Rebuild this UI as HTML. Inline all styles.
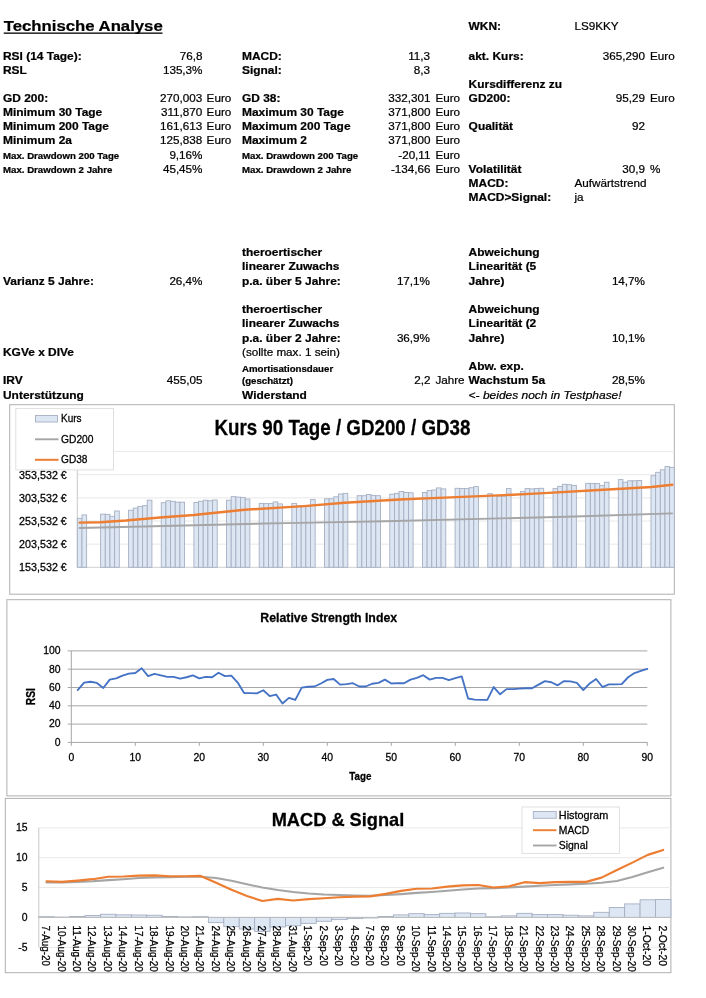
<!DOCTYPE html>
<html lang="de">
<head>
<meta charset="utf-8">
<title>Technische Analyse</title>
<style>
html,body{margin:0;padding:0;background:#fff;}
body{width:706px;height:998px;overflow:hidden;font-family:"Liberation Sans",sans-serif;}
svg{display:block;will-change:transform;font-family:"Liberation Sans",sans-serif;}
svg text{font-family:"Liberation Sans",sans-serif;}
.tb text{stroke:#000;stroke-width:0.22px;}
.ch text{stroke:#000;stroke-width:0.27px;}
</style>
</head>
<body>
<svg width="706" height="998" viewBox="0 0 706 998">
<rect x="0" y="0" width="706" height="998" fill="#ffffff"/>
<g class="tb">
<text font-size="15.4" transform="translate(3.70,30.80) scale(1.087,1)" font-weight="bold" >Technische Analyse</text>
<rect x="3.7" y="32.5" width="158.8" height="1.3" fill="#000"/>
<text font-size="11.05" transform="translate(468.60,30.00) scale(1.08,1)" font-weight="bold" >WKN:</text>
<text font-size="11.05" transform="translate(574.50,30.00) scale(1.0584,1)" >LS9KKY</text>
<text font-size="11.05" transform="translate(3.00,59.75) scale(1.08,1)" font-weight="bold" >RSI (14 Tage):</text>
<text font-size="11.05" transform="translate(202.50,59.75) scale(1.0584,1)" text-anchor="end" >76,8</text>
<text font-size="11.05" transform="translate(242.00,59.75) scale(1.08,1)" font-weight="bold" >MACD:</text>
<text font-size="11.05" transform="translate(430.00,59.75) scale(1.0584,1)" text-anchor="end" >11,3</text>
<text font-size="11.05" transform="translate(468.60,59.75) scale(1.08,1)" font-weight="bold" >akt. Kurs:</text>
<text font-size="11.05" transform="translate(645.00,59.75) scale(1.0584,1)" text-anchor="end" >365,290</text>
<text font-size="11.05" transform="translate(650.00,59.75) scale(1.0584,1)" >Euro</text>
<text font-size="11.05" transform="translate(3.00,73.87) scale(1.08,1)" font-weight="bold" >RSL</text>
<text font-size="11.05" transform="translate(202.50,73.87) scale(1.0584,1)" text-anchor="end" >135,3%</text>
<text font-size="11.05" transform="translate(242.00,73.87) scale(1.08,1)" font-weight="bold" >Signal:</text>
<text font-size="11.05" transform="translate(430.00,73.87) scale(1.0584,1)" text-anchor="end" >8,3</text>
<text font-size="11.05" transform="translate(468.60,87.99) scale(1.08,1)" font-weight="bold" >Kursdifferenz zu</text>
<text font-size="11.05" transform="translate(3.00,102.11) scale(1.08,1)" font-weight="bold" >GD 200:</text>
<text font-size="11.05" transform="translate(202.30,102.11) scale(1.0584,1)" text-anchor="end" >270,003</text>
<text font-size="11.05" transform="translate(206.60,102.11) scale(1.0584,1)" >Euro</text>
<text font-size="11.05" transform="translate(242.00,102.11) scale(1.08,1)" font-weight="bold" >GD 38:</text>
<text font-size="11.05" transform="translate(430.50,102.11) scale(1.0584,1)" text-anchor="end" >332,301</text>
<text font-size="11.05" transform="translate(435.40,102.11) scale(1.0584,1)" >Euro</text>
<text font-size="11.05" transform="translate(468.60,102.11) scale(1.08,1)" font-weight="bold" >GD200:</text>
<text font-size="11.05" transform="translate(645.00,102.11) scale(1.0584,1)" text-anchor="end" >95,29</text>
<text font-size="11.05" transform="translate(650.00,102.11) scale(1.0584,1)" >Euro</text>
<text font-size="11.05" transform="translate(3.00,116.23) scale(1.08,1)" font-weight="bold" >Minimum 30 Tage</text>
<text font-size="11.05" transform="translate(202.30,116.23) scale(1.0584,1)" text-anchor="end" >311,870</text>
<text font-size="11.05" transform="translate(206.60,116.23) scale(1.0584,1)" >Euro</text>
<text font-size="11.05" transform="translate(242.00,116.23) scale(1.08,1)" font-weight="bold" >Maximum 30 Tage</text>
<text font-size="11.05" transform="translate(430.50,116.23) scale(1.0584,1)" text-anchor="end" >371,800</text>
<text font-size="11.05" transform="translate(435.40,116.23) scale(1.0584,1)" >Euro</text>
<text font-size="11.05" transform="translate(3.00,130.35) scale(1.08,1)" font-weight="bold" >Minimum 200 Tage</text>
<text font-size="11.05" transform="translate(202.30,130.35) scale(1.0584,1)" text-anchor="end" >161,613</text>
<text font-size="11.05" transform="translate(206.60,130.35) scale(1.0584,1)" >Euro</text>
<text font-size="11.05" transform="translate(242.00,130.35) scale(1.08,1)" font-weight="bold" >Maximum 200 Tage</text>
<text font-size="11.05" transform="translate(430.50,130.35) scale(1.0584,1)" text-anchor="end" >371,800</text>
<text font-size="11.05" transform="translate(435.40,130.35) scale(1.0584,1)" >Euro</text>
<text font-size="11.05" transform="translate(468.60,130.35) scale(1.08,1)" font-weight="bold" >Qualität</text>
<text font-size="11.05" transform="translate(645.00,130.35) scale(1.0584,1)" text-anchor="end" >92</text>
<text font-size="11.05" transform="translate(3.00,144.47) scale(1.08,1)" font-weight="bold" >Minimum 2a</text>
<text font-size="11.05" transform="translate(202.30,144.47) scale(1.0584,1)" text-anchor="end" >125,838</text>
<text font-size="11.05" transform="translate(206.60,144.47) scale(1.0584,1)" >Euro</text>
<text font-size="11.05" transform="translate(242.00,144.47) scale(1.08,1)" font-weight="bold" >Maximum 2</text>
<text font-size="11.05" transform="translate(430.50,144.47) scale(1.0584,1)" text-anchor="end" >371,800</text>
<text font-size="11.05" transform="translate(435.40,144.47) scale(1.0584,1)" >Euro</text>
<text font-size="8.95" transform="translate(3.00,158.59) scale(1.08,1)" font-weight="bold" >Max. Drawdown 200 Tage</text>
<text font-size="11.05" transform="translate(202.50,158.59) scale(1.0584,1)" text-anchor="end" >9,16%</text>
<text font-size="8.95" transform="translate(242.00,158.59) scale(1.08,1)" font-weight="bold" >Max. Drawdown 200 Tage</text>
<text font-size="11.05" transform="translate(430.50,158.59) scale(1.0584,1)" text-anchor="end" >-20,11</text>
<text font-size="11.05" transform="translate(435.40,158.59) scale(1.0584,1)" >Euro</text>
<text font-size="8.95" transform="translate(3.00,172.71) scale(1.08,1)" font-weight="bold" >Max. Drawdown 2 Jahre</text>
<text font-size="11.05" transform="translate(202.50,172.71) scale(1.0584,1)" text-anchor="end" >45,45%</text>
<text font-size="8.95" transform="translate(242.00,172.71) scale(1.08,1)" font-weight="bold" >Max. Drawdown 2 Jahre</text>
<text font-size="11.05" transform="translate(430.50,172.71) scale(1.0584,1)" text-anchor="end" >-134,66</text>
<text font-size="11.05" transform="translate(435.40,172.71) scale(1.0584,1)" >Euro</text>
<text font-size="11.05" transform="translate(468.60,172.71) scale(1.08,1)" font-weight="bold" >Volatilität</text>
<text font-size="11.05" transform="translate(645.00,172.71) scale(1.0584,1)" text-anchor="end" >30,9</text>
<text font-size="11.05" transform="translate(650.00,172.71) scale(1.0584,1)" >%</text>
<text font-size="11.05" transform="translate(468.60,186.83) scale(1.08,1)" font-weight="bold" >MACD:</text>
<text font-size="11.05" transform="translate(574.50,186.83) scale(1.0584,1)" >Aufwärtstrend</text>
<text font-size="11.05" transform="translate(468.60,200.95) scale(1.08,1)" font-weight="bold" >MACD&gt;Signal:</text>
<text font-size="11.05" transform="translate(574.50,200.95) scale(1.0584,1)" >ja</text>
<text font-size="11.05" transform="translate(242.00,256.25) scale(1.08,1)" font-weight="bold" >theroertischer</text>
<text font-size="11.05" transform="translate(242.00,270.48) scale(1.08,1)" font-weight="bold" >linearer Zuwachs</text>
<text font-size="11.05" transform="translate(242.00,284.71) scale(1.08,1)" font-weight="bold" >p.a. über 5 Jahre:</text>
<text font-size="11.05" transform="translate(468.60,256.25) scale(1.08,1)" font-weight="bold" >Abweichung</text>
<text font-size="11.05" transform="translate(468.60,270.48) scale(1.08,1)" font-weight="bold" >Linearität (5</text>
<text font-size="11.05" transform="translate(468.60,284.71) scale(1.08,1)" font-weight="bold" >Jahre)</text>
<text font-size="11.05" transform="translate(3.00,284.71) scale(1.08,1)" font-weight="bold" >Varianz 5 Jahre:</text>
<text font-size="11.05" transform="translate(202.50,284.71) scale(1.0584,1)" text-anchor="end" >26,4%</text>
<text font-size="11.05" transform="translate(430.00,284.71) scale(1.0584,1)" text-anchor="end" >17,1%</text>
<text font-size="11.05" transform="translate(645.00,284.71) scale(1.0584,1)" text-anchor="end" >14,7%</text>
<text font-size="11.05" transform="translate(242.00,313.17) scale(1.08,1)" font-weight="bold" >theroertischer</text>
<text font-size="11.05" transform="translate(242.00,327.40) scale(1.08,1)" font-weight="bold" >linearer Zuwachs</text>
<text font-size="11.05" transform="translate(242.00,341.63) scale(1.08,1)" font-weight="bold" >p.a. über 2 Jahre:</text>
<text font-size="11.05" transform="translate(242.00,355.86) scale(1.0584,1)" >(sollte max. 1 sein)</text>
<text font-size="11.05" transform="translate(468.60,313.17) scale(1.08,1)" font-weight="bold" >Abweichung</text>
<text font-size="11.05" transform="translate(468.60,327.40) scale(1.08,1)" font-weight="bold" >Linearität (2</text>
<text font-size="11.05" transform="translate(468.60,341.63) scale(1.08,1)" font-weight="bold" >Jahre)</text>
<text font-size="11.05" transform="translate(430.00,341.63) scale(1.0584,1)" text-anchor="end" >36,9%</text>
<text font-size="11.05" transform="translate(645.00,341.63) scale(1.0584,1)" text-anchor="end" >10,1%</text>
<text font-size="11.05" transform="translate(3.00,355.86) scale(1.08,1)" font-weight="bold" >KGVe x DIVe</text>
<text font-size="8.95" transform="translate(242.00,371.59) scale(1.08,1)" font-weight="bold" >Amortisationsdauer</text>
<text font-size="11.05" transform="translate(468.60,370.09) scale(1.08,1)" font-weight="bold" >Abw. exp.</text>
<text font-size="11.05" transform="translate(3.00,384.32) scale(1.08,1)" font-weight="bold" >IRV</text>
<text font-size="11.05" transform="translate(202.50,384.32) scale(1.0584,1)" text-anchor="end" >455,05</text>
<text font-size="8.95" transform="translate(242.00,383.82) scale(1.08,1)" font-weight="bold" >(geschätzt)</text>
<text font-size="11.05" transform="translate(430.50,384.32) scale(1.0584,1)" text-anchor="end" >2,2</text>
<text font-size="11.05" transform="translate(435.40,384.32) scale(1.0584,1)" >Jahre</text>
<text font-size="11.05" transform="translate(468.60,384.32) scale(1.08,1)" font-weight="bold" >Wachstum 5a</text>
<text font-size="11.05" transform="translate(645.00,384.32) scale(1.0584,1)" text-anchor="end" >28,5%</text>
<text font-size="11.05" transform="translate(3.00,398.55) scale(1.08,1)" font-weight="bold" >Unterstützung</text>
<text font-size="11.05" transform="translate(242.00,398.55) scale(1.08,1)" font-weight="bold" >Widerstand</text>
<text font-size="11.05" transform="translate(468.60,398.55) scale(1.085,1)" font-style="italic" >&lt;- beides noch in Testphase!</text>
</g>
<g class="ch">
<rect x="9.7" y="404.7" width="664.6" height="189.5" fill="#fff" stroke="#b0b0b0" stroke-width="1"/>
<line x1="77.3" x2="674.3" y1="544.15" y2="544.15" stroke="#e8e8e8" stroke-width="1"/>
<line x1="77.3" x2="674.3" y1="521.00" y2="521.00" stroke="#e8e8e8" stroke-width="1"/>
<line x1="77.3" x2="674.3" y1="497.85" y2="497.85" stroke="#e8e8e8" stroke-width="1"/>
<line x1="77.3" x2="674.3" y1="474.70" y2="474.70" stroke="#e8e8e8" stroke-width="1"/>
<line x1="77.3" x2="674.3" y1="451.55" y2="451.55" stroke="#e8e8e8" stroke-width="1"/>
<line x1="77.3" x2="674.3" y1="567.3" y2="567.3" stroke="#d0d0d0" stroke-width="1"/>
<line x1="77.3" x2="77.3" y1="451.55" y2="567.3" stroke="#c8c8c8" stroke-width="1"/>
<g fill="#dde6f3" stroke="#a6afc2" stroke-width="0.9">
<rect x="77.30" y="518.30" width="4.66" height="49.00"/>
<rect x="81.96" y="514.90" width="4.66" height="52.40"/>
<rect x="100.62" y="514.10" width="4.66" height="53.20"/>
<rect x="105.28" y="514.40" width="4.66" height="52.90"/>
<rect x="109.95" y="516.30" width="4.66" height="51.00"/>
<rect x="114.61" y="511.00" width="4.66" height="56.30"/>
<rect x="128.60" y="510.20" width="4.66" height="57.10"/>
<rect x="133.27" y="508.10" width="4.66" height="59.20"/>
<rect x="137.93" y="506.40" width="4.66" height="60.90"/>
<rect x="142.60" y="505.60" width="4.66" height="61.70"/>
<rect x="147.26" y="500.20" width="4.66" height="67.10"/>
<rect x="161.25" y="502.70" width="4.66" height="64.60"/>
<rect x="165.92" y="500.80" width="4.66" height="66.50"/>
<rect x="170.58" y="501.30" width="4.66" height="66.00"/>
<rect x="175.25" y="502.20" width="4.66" height="65.10"/>
<rect x="179.91" y="502.20" width="4.66" height="65.10"/>
<rect x="193.90" y="502.50" width="4.66" height="64.80"/>
<rect x="198.57" y="501.30" width="4.66" height="66.00"/>
<rect x="203.23" y="500.20" width="4.66" height="67.10"/>
<rect x="207.89" y="500.80" width="4.66" height="66.50"/>
<rect x="212.56" y="500.00" width="4.66" height="67.30"/>
<rect x="226.55" y="500.20" width="4.66" height="67.10"/>
<rect x="231.21" y="496.60" width="4.66" height="70.70"/>
<rect x="235.88" y="497.10" width="4.66" height="70.20"/>
<rect x="240.54" y="497.40" width="4.66" height="69.90"/>
<rect x="245.21" y="499.10" width="4.66" height="68.20"/>
<rect x="259.20" y="503.40" width="4.66" height="63.90"/>
<rect x="263.86" y="503.60" width="4.66" height="63.70"/>
<rect x="268.53" y="503.60" width="4.66" height="63.70"/>
<rect x="273.19" y="501.90" width="4.66" height="65.40"/>
<rect x="277.85" y="503.90" width="4.66" height="63.40"/>
<rect x="291.85" y="503.40" width="4.66" height="63.90"/>
<rect x="296.51" y="505.90" width="4.66" height="61.40"/>
<rect x="301.18" y="505.60" width="4.66" height="61.70"/>
<rect x="305.84" y="506.40" width="4.66" height="60.90"/>
<rect x="310.50" y="499.60" width="4.66" height="67.70"/>
<rect x="324.50" y="498.80" width="4.66" height="68.50"/>
<rect x="329.16" y="498.80" width="4.66" height="68.50"/>
<rect x="333.82" y="496.80" width="4.66" height="70.50"/>
<rect x="338.49" y="494.00" width="4.66" height="73.30"/>
<rect x="343.15" y="493.40" width="4.66" height="73.90"/>
<rect x="357.14" y="495.70" width="4.66" height="71.60"/>
<rect x="361.81" y="495.70" width="4.66" height="71.60"/>
<rect x="366.47" y="494.50" width="4.66" height="72.80"/>
<rect x="371.14" y="495.40" width="4.66" height="71.90"/>
<rect x="375.80" y="495.70" width="4.66" height="71.60"/>
<rect x="389.79" y="494.20" width="4.66" height="73.10"/>
<rect x="394.46" y="493.40" width="4.66" height="73.90"/>
<rect x="399.12" y="491.50" width="4.66" height="75.80"/>
<rect x="403.78" y="492.50" width="4.66" height="74.80"/>
<rect x="408.45" y="492.80" width="4.66" height="74.50"/>
<rect x="422.44" y="492.50" width="4.66" height="74.80"/>
<rect x="427.10" y="490.60" width="4.66" height="76.70"/>
<rect x="431.77" y="490.00" width="4.66" height="77.30"/>
<rect x="436.43" y="487.90" width="4.66" height="79.40"/>
<rect x="441.10" y="488.90" width="4.66" height="78.40"/>
<rect x="455.09" y="488.30" width="4.66" height="79.00"/>
<rect x="459.75" y="488.60" width="4.66" height="78.70"/>
<rect x="464.42" y="488.60" width="4.66" height="78.70"/>
<rect x="469.08" y="487.70" width="4.66" height="79.60"/>
<rect x="473.75" y="486.60" width="4.66" height="80.70"/>
<rect x="487.74" y="493.70" width="4.66" height="73.60"/>
<rect x="492.40" y="495.70" width="4.66" height="71.60"/>
<rect x="497.07" y="496.20" width="4.66" height="71.10"/>
<rect x="501.73" y="496.20" width="4.66" height="71.10"/>
<rect x="506.39" y="488.60" width="4.66" height="78.70"/>
<rect x="520.39" y="491.50" width="4.66" height="75.80"/>
<rect x="525.05" y="488.60" width="4.66" height="78.70"/>
<rect x="529.71" y="488.90" width="4.66" height="78.40"/>
<rect x="534.38" y="488.60" width="4.66" height="78.70"/>
<rect x="539.04" y="488.30" width="4.66" height="79.00"/>
<rect x="553.03" y="488.60" width="4.66" height="78.70"/>
<rect x="557.70" y="486.40" width="4.66" height="80.90"/>
<rect x="562.36" y="484.30" width="4.66" height="83.00"/>
<rect x="567.03" y="484.70" width="4.66" height="82.60"/>
<rect x="571.69" y="485.50" width="4.66" height="81.80"/>
<rect x="585.68" y="483.40" width="4.66" height="83.90"/>
<rect x="590.35" y="483.40" width="4.66" height="83.90"/>
<rect x="595.01" y="483.60" width="4.66" height="83.70"/>
<rect x="599.67" y="485.60" width="4.66" height="81.70"/>
<rect x="604.34" y="482.20" width="4.66" height="85.10"/>
<rect x="618.33" y="479.60" width="4.66" height="87.70"/>
<rect x="623.00" y="482.20" width="4.66" height="85.10"/>
<rect x="627.66" y="480.80" width="4.66" height="86.50"/>
<rect x="632.32" y="480.80" width="4.66" height="86.50"/>
<rect x="636.99" y="480.50" width="4.66" height="86.80"/>
<rect x="650.98" y="475.70" width="4.66" height="91.60"/>
<rect x="655.64" y="472.30" width="4.66" height="95.00"/>
<rect x="660.31" y="469.80" width="4.66" height="97.50"/>
<rect x="664.97" y="466.60" width="4.66" height="100.70"/>
<rect x="669.64" y="467.40" width="4.66" height="99.90"/>
</g>
<polyline fill="none" stroke="#a5a5a5" stroke-width="1.95" stroke-linejoin="round" stroke-linecap="round" points="79.6,528 185,525.5 285,523.1 385,521.2 480,518.9 575,516.5 672,513.4"/>
<polyline fill="none" stroke="#ed7d31" stroke-width="2.45" stroke-linejoin="round" stroke-linecap="round" points="79.6,522.6 100,522.2 126,520.5 160,517.5 194,515 244.5,509.8 304,506.1 344.5,502.7 404,499.3 444.5,497.6 504,495.1 539.5,493.4 599,490 626,488.5 651.5,487 672.3,484.8"/>
<text font-size="10.9" x="66.80" y="571.10" text-anchor="end" textLength="47.70" lengthAdjust="spacingAndGlyphs" >153,532 €</text>
<text font-size="10.9" x="66.80" y="547.95" text-anchor="end" textLength="47.70" lengthAdjust="spacingAndGlyphs" >203,532 €</text>
<text font-size="10.9" x="66.80" y="524.80" text-anchor="end" textLength="47.70" lengthAdjust="spacingAndGlyphs" >253,532 €</text>
<text font-size="10.9" x="66.80" y="501.65" text-anchor="end" textLength="47.70" lengthAdjust="spacingAndGlyphs" >303,532 €</text>
<text font-size="10.9" x="66.80" y="478.50" text-anchor="end" textLength="47.70" lengthAdjust="spacingAndGlyphs" >353,532 €</text>
<rect x="15.8" y="408.4" width="97.7" height="61.5" fill="#fff" stroke="#dcdcdc" stroke-width="0.9"/>
<rect x="35.5" y="415.5" width="22" height="6.5" fill="#dde6f3" stroke="#a6afc2" stroke-width="0.9"/>
<text font-size="10.5" x="61.00" y="422.20" textLength="20.50" lengthAdjust="spacingAndGlyphs" >Kurs</text>
<line x1="35" x2="58.5" y1="439.3" y2="439.3" stroke="#a5a5a5" stroke-width="1.9"/>
<text font-size="10.5" x="61.00" y="442.90" textLength="32.50" lengthAdjust="spacingAndGlyphs" >GD200</text>
<line x1="35" x2="58.5" y1="459.8" y2="459.8" stroke="#ed7d31" stroke-width="2.0"/>
<text font-size="10.5" x="61.00" y="463.40" textLength="26.50" lengthAdjust="spacingAndGlyphs" >GD38</text>
<text font-size="21.8" x="214.40" y="435.00" font-weight="bold" textLength="256.00" lengthAdjust="spacingAndGlyphs" stroke="#000" stroke-width="0.4">Kurs 90 Tage / GD200 / GD38</text>
<rect x="6.9" y="599.7" width="664.0" height="196.2" fill="#fff" stroke="#b0b0b0" stroke-width="1"/>
<line x1="67.7" x2="647.3" y1="742.40" y2="742.40" stroke="#a6a6a6" stroke-width="1"/>
<text font-size="10.4" x="60.60" y="745.70" text-anchor="end" >0</text>
<line x1="67.7" x2="647.3" y1="724.10" y2="724.10" stroke="#a6a6a6" stroke-width="1"/>
<text font-size="10.4" x="60.60" y="727.40" text-anchor="end" >20</text>
<line x1="67.7" x2="647.3" y1="705.80" y2="705.80" stroke="#a6a6a6" stroke-width="1"/>
<text font-size="10.4" x="60.60" y="709.10" text-anchor="end" >40</text>
<line x1="67.7" x2="647.3" y1="687.50" y2="687.50" stroke="#a6a6a6" stroke-width="1"/>
<text font-size="10.4" x="60.60" y="690.80" text-anchor="end" >60</text>
<line x1="67.7" x2="647.3" y1="669.20" y2="669.20" stroke="#a6a6a6" stroke-width="1"/>
<text font-size="10.4" x="60.60" y="672.50" text-anchor="end" >80</text>
<line x1="67.7" x2="647.3" y1="650.90" y2="650.90" stroke="#a6a6a6" stroke-width="1"/>
<text font-size="10.4" x="60.60" y="654.20" text-anchor="end" >100</text>
<line x1="71.3" x2="71.3" y1="650.90" y2="742.4" stroke="#a6a6a6" stroke-width="1"/>
<line x1="71.30" x2="71.30" y1="742.4" y2="745.8" stroke="#a6a6a6" stroke-width="1"/>
<text font-size="10.4" x="71.30" y="760.70" text-anchor="middle" >0</text>
<line x1="135.30" x2="135.30" y1="742.4" y2="745.8" stroke="#a6a6a6" stroke-width="1"/>
<text font-size="10.4" x="135.30" y="760.70" text-anchor="middle" >10</text>
<line x1="199.30" x2="199.30" y1="742.4" y2="745.8" stroke="#a6a6a6" stroke-width="1"/>
<text font-size="10.4" x="199.30" y="760.70" text-anchor="middle" >20</text>
<line x1="263.30" x2="263.30" y1="742.4" y2="745.8" stroke="#a6a6a6" stroke-width="1"/>
<text font-size="10.4" x="263.30" y="760.70" text-anchor="middle" >30</text>
<line x1="327.30" x2="327.30" y1="742.4" y2="745.8" stroke="#a6a6a6" stroke-width="1"/>
<text font-size="10.4" x="327.30" y="760.70" text-anchor="middle" >40</text>
<line x1="391.30" x2="391.30" y1="742.4" y2="745.8" stroke="#a6a6a6" stroke-width="1"/>
<text font-size="10.4" x="391.30" y="760.70" text-anchor="middle" >50</text>
<line x1="455.30" x2="455.30" y1="742.4" y2="745.8" stroke="#a6a6a6" stroke-width="1"/>
<text font-size="10.4" x="455.30" y="760.70" text-anchor="middle" >60</text>
<line x1="519.30" x2="519.30" y1="742.4" y2="745.8" stroke="#a6a6a6" stroke-width="1"/>
<text font-size="10.4" x="519.30" y="760.70" text-anchor="middle" >70</text>
<line x1="583.30" x2="583.30" y1="742.4" y2="745.8" stroke="#a6a6a6" stroke-width="1"/>
<text font-size="10.4" x="583.30" y="760.70" text-anchor="middle" >80</text>
<line x1="647.30" x2="647.30" y1="742.4" y2="745.8" stroke="#a6a6a6" stroke-width="1"/>
<text font-size="10.4" x="647.30" y="760.70" text-anchor="middle" >90</text>
<polyline fill="none" stroke="#4472c4" stroke-width="1.85" stroke-linejoin="round" stroke-linecap="round" points="77.70,690.06 84.10,682.56 90.50,681.74 96.90,682.92 103.30,687.96 109.70,679.63 116.10,678.44 122.50,675.70 128.90,673.59 135.30,673.04 141.70,668.28 148.10,676.06 154.50,673.96 160.90,675.42 167.30,676.89 173.70,676.89 180.10,678.72 186.50,677.25 192.90,675.42 199.30,678.35 205.70,676.89 212.10,677.25 218.50,672.77 224.90,676.06 231.30,675.70 237.70,682.56 244.10,693.08 250.50,693.08 256.90,693.36 263.30,690.25 269.70,696.10 276.10,694.55 282.50,703.51 288.90,697.84 295.30,699.94 301.70,687.68 308.10,686.77 314.50,686.49 320.90,683.47 327.30,679.91 333.70,678.99 340.10,684.66 346.50,684.11 352.90,683.20 359.30,686.49 365.70,686.49 372.10,683.75 378.50,682.92 384.90,679.63 391.30,683.47 397.70,683.20 404.10,683.20 410.50,679.63 416.90,677.80 423.30,675.15 429.70,679.63 436.10,677.80 442.50,677.80 448.90,680.18 455.30,678.17 461.70,676.34 468.10,698.48 474.50,699.67 480.90,699.94 487.30,699.94 493.70,687.04 500.10,694.27 506.50,689.15 512.90,689.15 519.30,688.60 525.70,688.23 532.10,688.23 538.50,684.66 544.90,681.10 551.30,682.28 557.70,685.30 564.10,681.10 570.50,681.37 576.90,682.92 583.30,690.06 589.70,683.47 596.10,678.99 602.50,687.04 608.90,684.39 615.30,684.39 621.70,684.11 628.10,677.25 634.50,673.04 640.90,670.94 647.30,668.83"/>
<text font-size="12.8" x="260.30" y="621.80" font-weight="bold" textLength="136.80" lengthAdjust="spacingAndGlyphs" stroke="#000" stroke-width="0.3">Relative Strength Index</text>
<text font-size="10.2" x="349.30" y="780.00" font-weight="bold" textLength="22.10" lengthAdjust="spacingAndGlyphs" stroke="#000" stroke-width="0.3">Tage</text>
<text font-size="13" font-weight="bold" text-anchor="middle" textLength="17" lengthAdjust="spacingAndGlyphs" stroke="#000" stroke-width="0.35" transform="translate(35.4,696.7) rotate(-90)">RSI</text>
<rect x="5.3" y="798.4" width="665.6" height="174.3" fill="#fff" stroke="#b0b0b0" stroke-width="1"/>
<line x1="38.8" x2="670.9" y1="947.25" y2="947.25" stroke="#e8e8e8" stroke-width="1"/>
<line x1="38.8" x2="670.9" y1="887.55" y2="887.55" stroke="#e8e8e8" stroke-width="1"/>
<line x1="38.8" x2="670.9" y1="857.70" y2="857.70" stroke="#e8e8e8" stroke-width="1"/>
<line x1="38.8" x2="670.9" y1="827.85" y2="827.85" stroke="#e8e8e8" stroke-width="1"/>
<text font-size="10.4" x="27.60" y="950.75" text-anchor="end" >-5</text>
<text font-size="10.4" x="27.60" y="920.90" text-anchor="end" >0</text>
<text font-size="10.4" x="27.60" y="891.05" text-anchor="end" >5</text>
<text font-size="10.4" x="27.60" y="861.20" text-anchor="end" >10</text>
<text font-size="10.4" x="27.60" y="831.35" text-anchor="end" >15</text>
<line x1="38.8" x2="38.8" y1="827.85" y2="947.25" stroke="#c8c8c8" stroke-width="1"/>
<g fill="#dde6f3" stroke="#a6afc2" stroke-width="0.9">
<rect x="38.80" y="916.68" width="15.42" height="0.72"/>
<rect x="54.22" y="917.10" width="15.42" height="0.30"/>
<rect x="69.63" y="916.50" width="15.42" height="0.90"/>
<rect x="85.05" y="915.49" width="15.42" height="1.91"/>
<rect x="100.47" y="914.24" width="15.42" height="3.16"/>
<rect x="115.89" y="914.83" width="15.42" height="2.57"/>
<rect x="131.30" y="915.01" width="15.42" height="2.39"/>
<rect x="146.72" y="915.25" width="15.42" height="2.15"/>
<rect x="162.14" y="916.50" width="15.42" height="0.90"/>
<rect x="177.55" y="916.92" width="15.42" height="0.48"/>
<rect x="192.97" y="916.68" width="15.42" height="0.72"/>
<rect x="208.39" y="917.40" width="15.42" height="5.25"/>
<rect x="223.80" y="917.40" width="15.42" height="9.25"/>
<rect x="239.22" y="917.40" width="15.42" height="11.64"/>
<rect x="254.64" y="917.40" width="15.42" height="14.03"/>
<rect x="270.06" y="917.40" width="15.42" height="9.55"/>
<rect x="285.47" y="917.40" width="15.42" height="8.36"/>
<rect x="300.89" y="917.40" width="15.42" height="5.97"/>
<rect x="316.31" y="917.40" width="15.42" height="3.88"/>
<rect x="331.72" y="917.40" width="15.42" height="2.21"/>
<rect x="347.14" y="917.40" width="15.42" height="1.19"/>
<rect x="362.56" y="917.40" width="15.42" height="0.60"/>
<rect x="377.98" y="916.44" width="15.42" height="0.96"/>
<rect x="393.39" y="914.89" width="15.42" height="2.51"/>
<rect x="408.81" y="913.64" width="15.42" height="3.76"/>
<rect x="424.23" y="914.59" width="15.42" height="2.81"/>
<rect x="439.64" y="913.34" width="15.42" height="4.06"/>
<rect x="455.06" y="912.98" width="15.42" height="4.42"/>
<rect x="470.48" y="913.64" width="15.42" height="3.76"/>
<rect x="485.90" y="916.80" width="15.42" height="0.60"/>
<rect x="501.31" y="915.85" width="15.42" height="1.55"/>
<rect x="516.73" y="913.34" width="15.42" height="4.06"/>
<rect x="532.15" y="914.59" width="15.42" height="2.81"/>
<rect x="547.56" y="914.59" width="15.42" height="2.81"/>
<rect x="562.98" y="915.19" width="15.42" height="2.21"/>
<rect x="578.40" y="915.85" width="15.42" height="1.55"/>
<rect x="593.81" y="912.33" width="15.42" height="5.07"/>
<rect x="609.23" y="907.55" width="15.42" height="9.85"/>
<rect x="624.65" y="903.91" width="15.42" height="13.49"/>
<rect x="640.07" y="899.79" width="15.42" height="17.61"/>
<rect x="655.48" y="899.49" width="15.42" height="17.91"/>
</g>
<line x1="38.8" x2="670.9" y1="917.4" y2="917.4" stroke="#bfbfbf" stroke-width="1"/>
<polyline fill="none" stroke="#a5a5a5" stroke-width="2.1" stroke-linejoin="round" stroke-linecap="round" points="46.51,882.48 61.93,882.48 77.34,881.88 92.76,881.28 108.18,880.09 123.59,879.19 139.01,878.00 154.43,877.40 169.85,877.10 185.26,876.80 200.68,876.80 216.10,878.00 231.51,880.68 246.93,884.27 262.35,887.55 277.76,890.06 293.18,891.97 308.60,893.52 324.02,894.48 339.43,895.07 354.85,895.43 370.27,895.73 385.68,895.07 401.10,894.12 416.52,892.92 431.94,891.97 447.35,890.71 462.77,889.46 478.19,888.51 493.60,888.15 509.02,887.55 524.44,886.59 539.85,885.76 555.27,885.04 570.69,884.39 586.11,883.79 601.52,882.77 616.94,880.98 632.36,877.10 647.77,872.27 663.19,867.67"/>
<polyline fill="none" stroke="#ed7d31" stroke-width="2.15" stroke-linejoin="round" stroke-linecap="round" points="46.51,881.28 61.93,881.88 77.34,880.68 92.76,879.19 108.18,876.80 123.59,876.51 139.01,875.61 154.43,875.31 169.85,876.21 185.26,876.21 200.68,875.91 216.10,882.77 231.51,889.76 246.93,895.91 262.35,901.04 277.76,898.89 293.18,900.45 308.60,899.19 324.02,898.30 339.43,897.28 354.85,896.68 370.27,896.33 385.68,893.82 401.10,890.83 416.52,888.74 431.94,888.51 447.35,886.59 462.77,885.34 478.19,885.04 493.60,887.55 509.02,886.36 524.44,882.18 539.85,883.13 555.27,882.18 570.69,881.88 586.11,881.88 601.52,877.64 616.94,869.94 632.36,862.60 647.77,854.89 663.19,849.94"/>
<clipPath id="c3"><rect x="5.6" y="798.5" width="664.8" height="173.7"/></clipPath>
<g clip-path="url(#c3)" font-size="11.2" style="stroke:#000;stroke-width:0.3px">
<text textLength="40.6" lengthAdjust="spacingAndGlyphs" transform="translate(42.21,925.4) rotate(90)">7-Aug-20</text>
<text textLength="46.4" lengthAdjust="spacingAndGlyphs" transform="translate(57.63,925.4) rotate(90)">10-Aug-20</text>
<text textLength="46.4" lengthAdjust="spacingAndGlyphs" transform="translate(73.04,925.4) rotate(90)">11-Aug-20</text>
<text textLength="46.4" lengthAdjust="spacingAndGlyphs" transform="translate(88.46,925.4) rotate(90)">12-Aug-20</text>
<text textLength="46.4" lengthAdjust="spacingAndGlyphs" transform="translate(103.88,925.4) rotate(90)">13-Aug-20</text>
<text textLength="46.4" lengthAdjust="spacingAndGlyphs" transform="translate(119.29,925.4) rotate(90)">14-Aug-20</text>
<text textLength="46.4" lengthAdjust="spacingAndGlyphs" transform="translate(134.71,925.4) rotate(90)">17-Aug-20</text>
<text textLength="46.4" lengthAdjust="spacingAndGlyphs" transform="translate(150.13,925.4) rotate(90)">18-Aug-20</text>
<text textLength="46.4" lengthAdjust="spacingAndGlyphs" transform="translate(165.55,925.4) rotate(90)">19-Aug-20</text>
<text textLength="46.4" lengthAdjust="spacingAndGlyphs" transform="translate(180.96,925.4) rotate(90)">20-Aug-20</text>
<text textLength="46.4" lengthAdjust="spacingAndGlyphs" transform="translate(196.38,925.4) rotate(90)">21-Aug-20</text>
<text textLength="46.4" lengthAdjust="spacingAndGlyphs" transform="translate(211.80,925.4) rotate(90)">24-Aug-20</text>
<text textLength="46.4" lengthAdjust="spacingAndGlyphs" transform="translate(227.21,925.4) rotate(90)">25-Aug-20</text>
<text textLength="46.4" lengthAdjust="spacingAndGlyphs" transform="translate(242.63,925.4) rotate(90)">26-Aug-20</text>
<text textLength="46.4" lengthAdjust="spacingAndGlyphs" transform="translate(258.05,925.4) rotate(90)">27-Aug-20</text>
<text textLength="46.4" lengthAdjust="spacingAndGlyphs" transform="translate(273.46,925.4) rotate(90)">28-Aug-20</text>
<text textLength="46.4" lengthAdjust="spacingAndGlyphs" transform="translate(288.88,925.4) rotate(90)">31-Aug-20</text>
<text textLength="40.6" lengthAdjust="spacingAndGlyphs" transform="translate(304.30,925.4) rotate(90)">1-Sep-20</text>
<text textLength="40.6" lengthAdjust="spacingAndGlyphs" transform="translate(319.72,925.4) rotate(90)">2-Sep-20</text>
<text textLength="40.6" lengthAdjust="spacingAndGlyphs" transform="translate(335.13,925.4) rotate(90)">3-Sep-20</text>
<text textLength="40.6" lengthAdjust="spacingAndGlyphs" transform="translate(350.55,925.4) rotate(90)">4-Sep-20</text>
<text textLength="40.6" lengthAdjust="spacingAndGlyphs" transform="translate(365.97,925.4) rotate(90)">7-Sep-20</text>
<text textLength="40.6" lengthAdjust="spacingAndGlyphs" transform="translate(381.38,925.4) rotate(90)">8-Sep-20</text>
<text textLength="40.6" lengthAdjust="spacingAndGlyphs" transform="translate(396.80,925.4) rotate(90)">9-Sep-20</text>
<text textLength="46.4" lengthAdjust="spacingAndGlyphs" transform="translate(412.22,925.4) rotate(90)">10-Sep-20</text>
<text textLength="46.4" lengthAdjust="spacingAndGlyphs" transform="translate(427.64,925.4) rotate(90)">11-Sep-20</text>
<text textLength="46.4" lengthAdjust="spacingAndGlyphs" transform="translate(443.05,925.4) rotate(90)">14-Sep-20</text>
<text textLength="46.4" lengthAdjust="spacingAndGlyphs" transform="translate(458.47,925.4) rotate(90)">15-Sep-20</text>
<text textLength="46.4" lengthAdjust="spacingAndGlyphs" transform="translate(473.89,925.4) rotate(90)">16-Sep-20</text>
<text textLength="46.4" lengthAdjust="spacingAndGlyphs" transform="translate(489.30,925.4) rotate(90)">17-Sep-20</text>
<text textLength="46.4" lengthAdjust="spacingAndGlyphs" transform="translate(504.72,925.4) rotate(90)">18-Sep-20</text>
<text textLength="46.4" lengthAdjust="spacingAndGlyphs" transform="translate(520.14,925.4) rotate(90)">21-Sep-20</text>
<text textLength="46.4" lengthAdjust="spacingAndGlyphs" transform="translate(535.55,925.4) rotate(90)">22-Sep-20</text>
<text textLength="46.4" lengthAdjust="spacingAndGlyphs" transform="translate(550.97,925.4) rotate(90)">23-Sep-20</text>
<text textLength="46.4" lengthAdjust="spacingAndGlyphs" transform="translate(566.39,925.4) rotate(90)">24-Sep-20</text>
<text textLength="46.4" lengthAdjust="spacingAndGlyphs" transform="translate(581.81,925.4) rotate(90)">25-Sep-20</text>
<text textLength="46.4" lengthAdjust="spacingAndGlyphs" transform="translate(597.22,925.4) rotate(90)">28-Sep-20</text>
<text textLength="46.4" lengthAdjust="spacingAndGlyphs" transform="translate(612.64,925.4) rotate(90)">29-Sep-20</text>
<text textLength="46.4" lengthAdjust="spacingAndGlyphs" transform="translate(628.06,925.4) rotate(90)">30-Sep-20</text>
<text textLength="40.6" lengthAdjust="spacingAndGlyphs" transform="translate(643.47,925.4) rotate(90)">1-Oct-20</text>
<text textLength="40.6" lengthAdjust="spacingAndGlyphs" transform="translate(658.89,925.4) rotate(90)">2-Oct-20</text>
</g>
<rect x="522.0" y="807.0" width="97.4" height="46.6" fill="#fff" stroke="#dcdcdc" stroke-width="0.9"/>
<rect x="533.3" y="811.5" width="22.9" height="6.8" fill="#dde6f3" stroke="#a6afc2" stroke-width="0.9"/>
<text font-size="10.4" x="558.80" y="818.60" textLength="49.50" lengthAdjust="spacingAndGlyphs" >Histogram</text>
<line x1="533" x2="556.5" y1="830.2" y2="830.2" stroke="#ed7d31" stroke-width="1.9"/>
<text font-size="10.4" x="558.80" y="833.90" textLength="30.50" lengthAdjust="spacingAndGlyphs" >MACD</text>
<line x1="533" x2="556.5" y1="845.5" y2="845.5" stroke="#a5a5a5" stroke-width="1.9"/>
<text font-size="10.4" x="558.80" y="849.20" textLength="29.00" lengthAdjust="spacingAndGlyphs" >Signal</text>
<text font-size="19.0" x="271.70" y="826.30" font-weight="bold" textLength="132.60" lengthAdjust="spacingAndGlyphs" stroke="#000" stroke-width="0.4">MACD &amp; Signal</text>
</g>
</svg>
</body>
</html>
